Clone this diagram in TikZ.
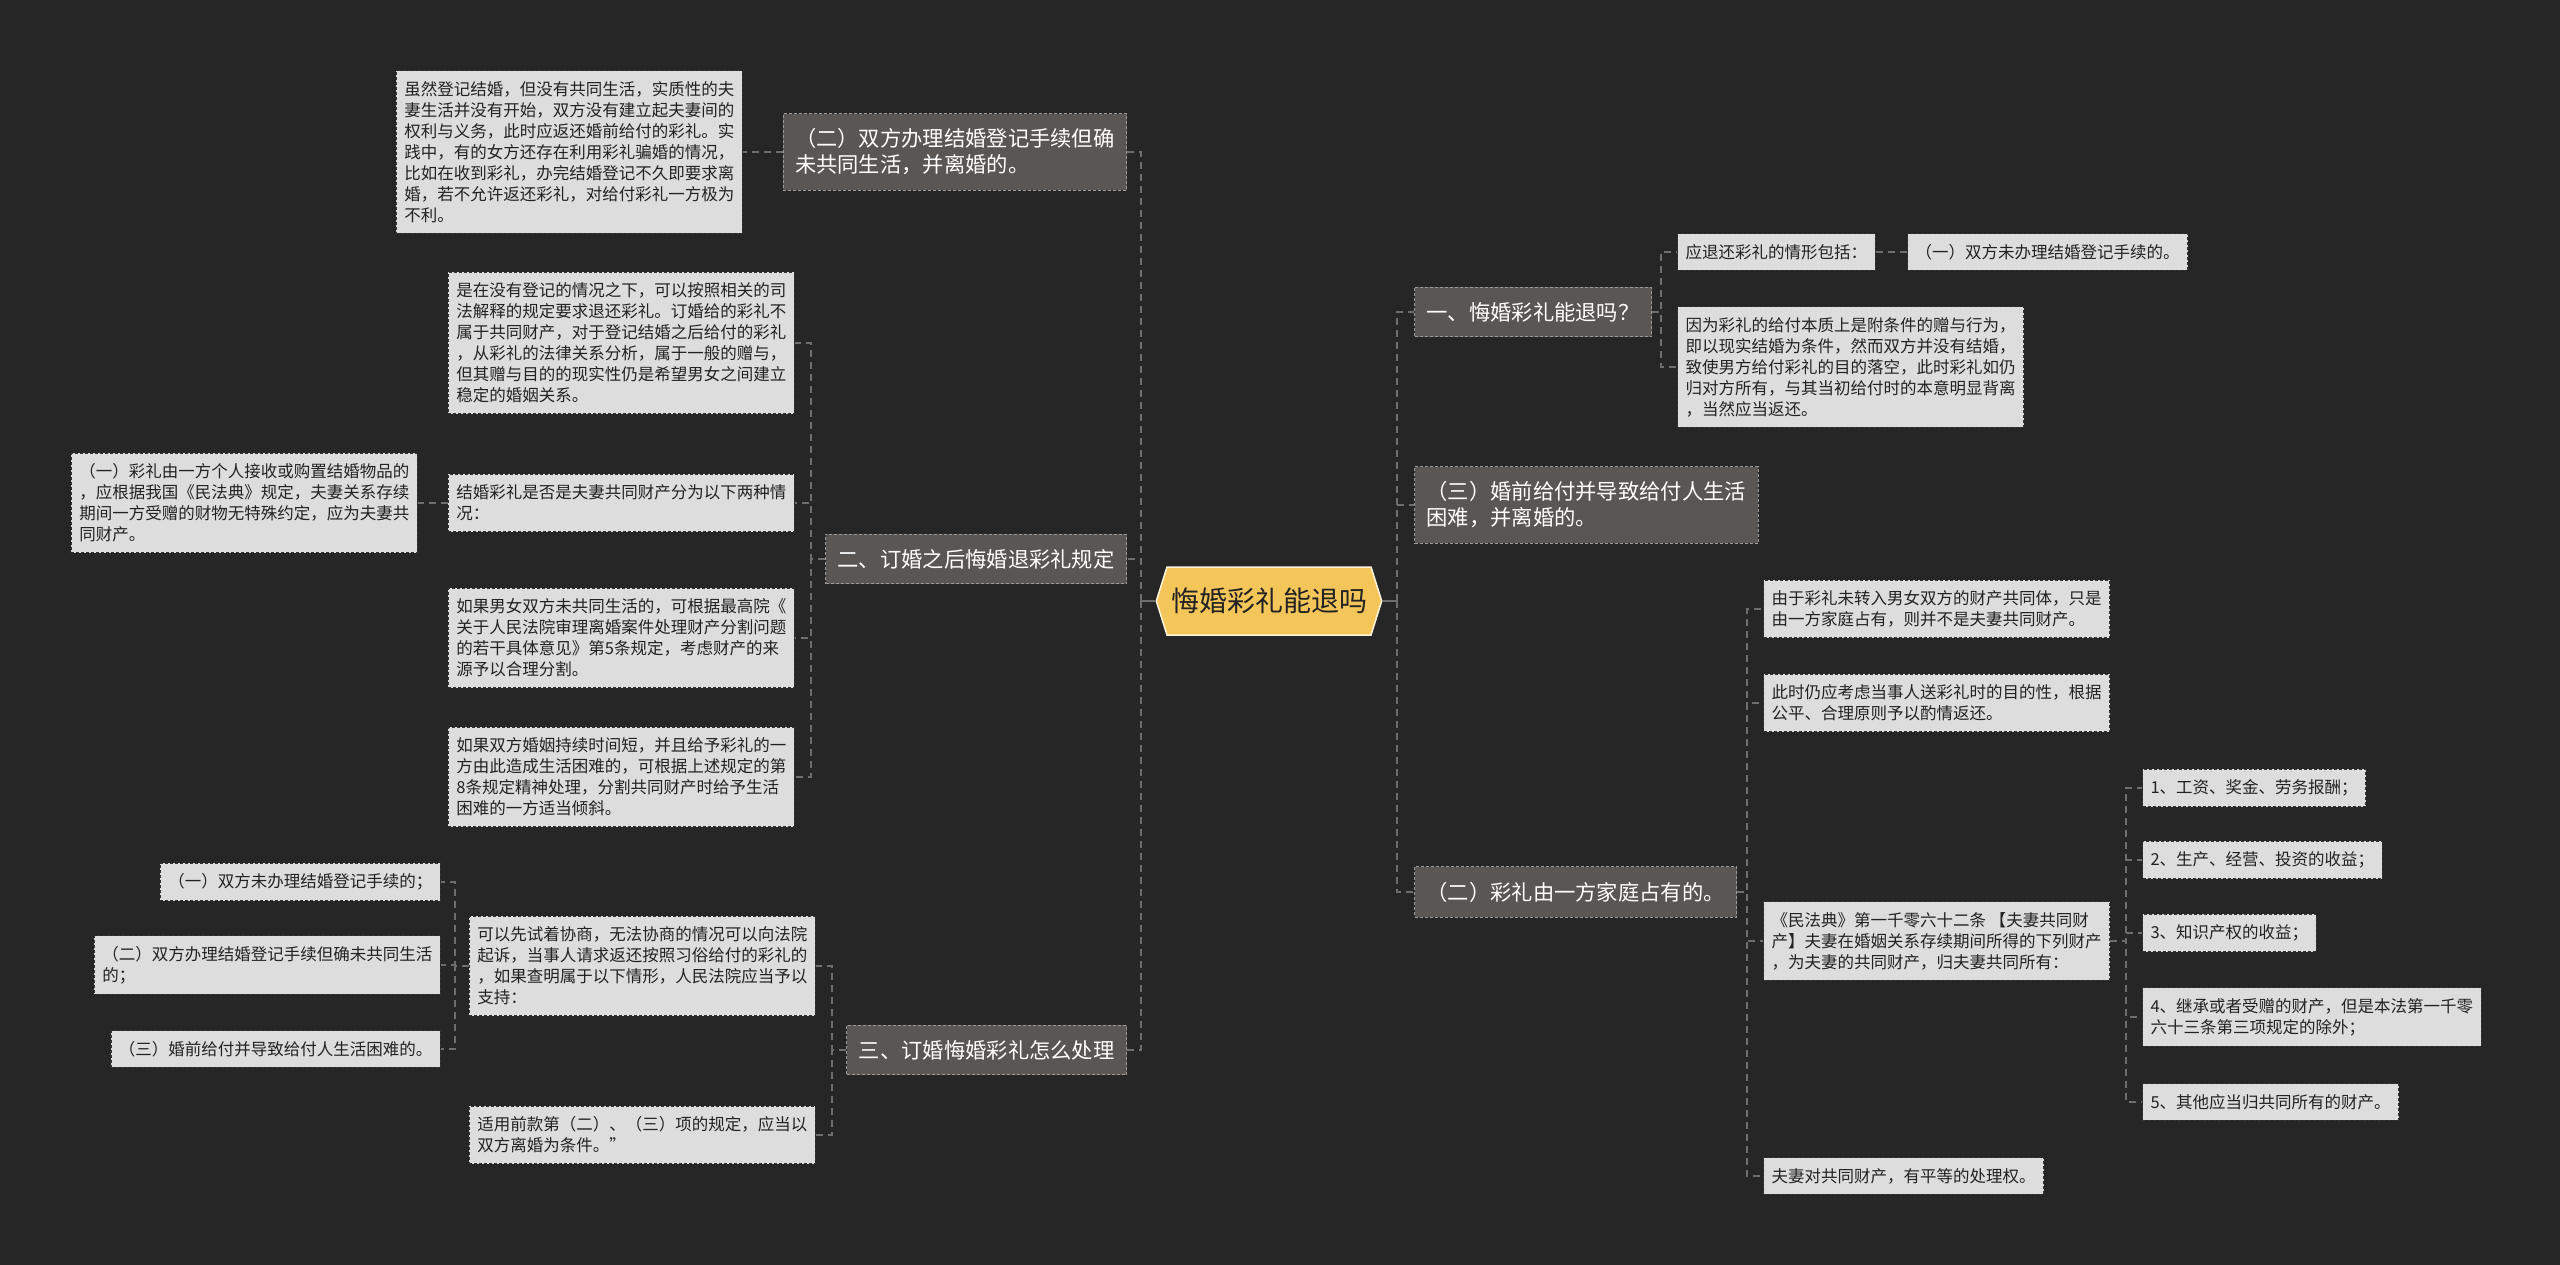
\documentclass[tikz,border=0pt]{standalone}
\usepackage{fontspec}
\setmainfont{Noto Sans CJK SC}
\usetikzlibrary{shapes.symbols}
\definecolor{bgdark}{HTML}{262626}
\definecolor{rootyellow}{HTML}{F4C65A}
\definecolor{branchgray}{HTML}{5A5653}
\definecolor{leafgray}{HTML}{DDDDDD}
\definecolor{ink}{HTML}{222222}
\definecolor{wire}{HTML}{6E6E6E}

\begin{document}
\begin{tikzpicture}[x=1pt,y=-1pt,
    root/.style={signal,signal to=west and east,signal pointer angle=145,
      fill=rootyellow,draw=white!80!rootyellow,line width=1.5pt,text=ink,
      font=\fontsize{28}{32}\selectfont,minimum height=68,inner xsep=4},
    branch/.style={fill=branchgray,draw=white!40!branchgray,line width=1pt,
      dash pattern=on 3pt off 2pt,text=white,align=left,
      font=\fontsize{21.3}{26}\selectfont,inner xsep=12,inner ysep=15},
    leaf/.style={fill=leafgray,draw=black!80,line width=1.1pt,
      dash pattern=on 3pt off 2pt,text=ink,align=left,
      font=\fontsize{16.5}{21}\selectfont,inner xsep=8,inner ysep=10.5},
    link/.style={draw=wire,line width=1.4pt,dash pattern=on 7pt off 5pt},
    stub/.style={draw=wire,line width=1.6pt}]
  \fill[bgdark] (0,0) rectangle (2560,1265);
  \useasboundingbox (0,0) rectangle (2560,1265);

  % centre
  \node[root] (root) at (1269,601) {悔婚彩礼能退吗};

  % trunk positions
  \coordinate (ltk) at (1141,0);
  \coordinate (rtk) at (1397,0);
  \coordinate (t1) at (757,0);
  \coordinate (t2) at (811,0);
  \coordinate (t2b) at (433,0);
  \coordinate (t3) at (832,0);
  \coordinate (t3a) at (455,0);
  \coordinate (u1) at (1661,0);
  \coordinate (u1a) at (1890,0);
  \coordinate (u3) at (1747,0);
  \coordinate (u3c) at (2126,0);

  % left side
  \node[branch,anchor=east] (bl1) at (1127,152) {（二）双方办理结婚登记手续但确\\未共同生活，并离婚的。};
  \node[leaf,anchor=east] (bl1a) at (743,152) {虽然登记结婚，但没有共同生活，实质性的夫\\妻生活并没有开始，双方没有建立起夫妻间的\\权利与义务，此时应返还婚前给付的彩礼。实\\践中，有的女方还存在利用彩礼骗婚的情况，\\比如在收到彩礼，办完结婚登记不久即要求离\\婚，若不允许返还彩礼，对给付彩礼一方极为\\不利。};

  \node[branch,anchor=east] (bl2) at (1127,559) {二、订婚之后悔婚退彩礼规定};
  \node[leaf,anchor=east] (bl2a) at (795,343) {是在没有登记的情况之下，可以按照相关的司\\法解释的规定要求退还彩礼。订婚给的彩礼不\\属于共同财产，对于登记结婚之后给付的彩礼\\，从彩礼的法律关系分析，属于一般的赠与，\\但其赠与目的的现实性仍是希望男女之间建立\\稳定的婚姻关系。};
  \node[leaf,anchor=east] (bl2b) at (795,503) {结婚彩礼是否是夫妻共同财产分为以下两种情\\况：};
  \node[leaf,anchor=east] (bl2b1) at (418,503) {（一）彩礼由一方个人接收或购置结婚物品的\\，应根据我国《民法典》规定，夫妻关系存续\\期间一方受赠的财物无特殊约定，应为夫妻共\\同财产。};
  \node[leaf,anchor=east] (bl2c) at (795,638) {如果男女双方未共同生活的，可根据最高院《\\关于人民法院审理离婚案件处理财产分割问题\\的若干具体意见》第5条规定，考虑财产的来\\源予以合理分割。};
  \node[leaf,anchor=east] (bl2d) at (795,777) {如果双方婚姻持续时间短，并且给予彩礼的一\\方由此造成生活困难的，可根据上述规定的第\\8条规定精神处理，分割共同财产时给予生活\\困难的一方适当倾斜。};

  \node[branch,anchor=east] (bl3) at (1127,1050) {三、订婚悔婚彩礼怎么处理};
  \node[leaf,anchor=east] (bl3a) at (816,966) {可以先试着协商，无法协商的情况可以向法院\\起诉，当事人请求返还按照习俗给付的彩礼的\\，如果查明属于以下情形，人民法院应当予以\\支持：};
  \node[leaf,anchor=east] (bl3b) at (816,1135) {适用前款第（二）、（三）项的规定，应当以\\双方离婚为条件。”};
  \node[leaf,anchor=east] (bl3a1) at (441,882) {（一）双方未办理结婚登记手续的；};
  \node[leaf,anchor=east] (bl3a2) at (441,965) {（二）双方办理结婚登记手续但确未共同生活\\的；};
  \node[leaf,anchor=east] (bl3a3) at (441,1049) {（三）婚前给付并导致给付人生活困难的。};

  % right side
  \node[branch,anchor=west] (br1) at (1414,312) {一、悔婚彩礼能退吗？};
  \node[leaf,anchor=west] (br1a) at (1677,252) {应退还彩礼的情形包括：};
  \node[leaf,anchor=west] (br1a1) at (1907,252) {（一）双方未办理结婚登记手续的。};
  \node[leaf,anchor=west] (br1b) at (1677,367) {因为彩礼的给付本质上是附条件的赠与行为，\\即以现实结婚为条件，然而双方并没有结婚，\\致使男方给付彩礼的目的落空，此时彩礼如仍\\归对方所有，与其当初给付时的本意明显背离\\，当然应当返还。};

  \node[branch,anchor=west] (br2) at (1414,505) {（三）婚前给付并导致给付人生活\\困难，并离婚的。};

  \node[branch,anchor=west] (br3) at (1414,892) {（二）彩礼由一方家庭占有的。};
  \node[leaf,anchor=west] (br3a) at (1763,609) {由于彩礼未转入男女双方的财产共同体，只是\\由一方家庭占有，则并不是夫妻共同财产。};
  \node[leaf,anchor=west] (br3b) at (1763,703) {此时仍应考虑当事人送彩礼时的目的性，根据\\公平、合理原则予以酌情返还。};
  \node[leaf,anchor=west] (br3c) at (1763,941) {《民法典》第一千零六十二条 【夫妻共同财\\产】夫妻在婚姻关系存续期间所得的下列财产\\，为夫妻的共同财产，归夫妻共同所有：};
  \node[leaf,anchor=west] (br3d) at (1763,1176) {夫妻对共同财产，有平等的处理权。};
  \node[leaf,anchor=west] (br3c1) at (2142,788) {1、工资、奖金、劳务报酬；};
  \node[leaf,anchor=west] (br3c2) at (2142,860) {2、生产、经营、投资的收益；};
  \node[leaf,anchor=west] (br3c3) at (2142,933) {3、知识产权的收益；};
  \node[leaf,anchor=west] (br3c4) at (2142,1017) {4、继承或者受赠的财产，但是本法第一千零\\六十三条第三项规定的除外；};
  \node[leaf,anchor=west] (br3c5) at (2142,1102) {5、其他应当归共同所有的财产。};

  % connectors
  \draw[stub] (root.west) -- (root.west -| ltk) ++(0,-7) -- ++(0,14);
  \draw[stub] (root.east) -- (root.east -| rtk) ++(0,-7) -- ++(0,14);
  \foreach \kid in {bl1,bl2,bl3}
    \draw[link] (root.west -| ltk) |- (\kid.east);
  \foreach \kid in {br1,br2,br3}
    \draw[link] (root.east -| rtk) |- (\kid.west);
  \draw[link] (bl1.west) -- (bl1.west -| t1) |- (bl1a.east);
  \foreach \kid in {bl2a,bl2b,bl2c,bl2d}
    \draw[link] (bl2.west) -- (bl2.west -| t2) |- (\kid.east);
  \draw[link] (bl2b.west) -- (bl2b.west -| t2b) |- (bl2b1.east);
  \foreach \kid in {bl3a,bl3b}
    \draw[link] (bl3.west) -- (bl3.west -| t3) |- (\kid.east);
  \foreach \kid in {bl3a1,bl3a2,bl3a3}
    \draw[link] (bl3a.west) -- (bl3a.west -| t3a) |- (\kid.east);
  \foreach \kid in {br1a,br1b}
    \draw[link] (br1.east) -- (br1.east -| u1) |- (\kid.west);
  \draw[link] (br1a.east) -- (br1a.east -| u1a) |- (br1a1.west);
  \foreach \kid in {br3a,br3b,br3c,br3d}
    \draw[link] (br3.east) -- (br3.east -| u3) |- (\kid.west);
  \foreach \kid in {br3c1,br3c2,br3c3,br3c4,br3c5}
    \draw[link] (br3c.east) -- (br3c.east -| u3c) |- (\kid.west);
\end{tikzpicture}
\end{document}
